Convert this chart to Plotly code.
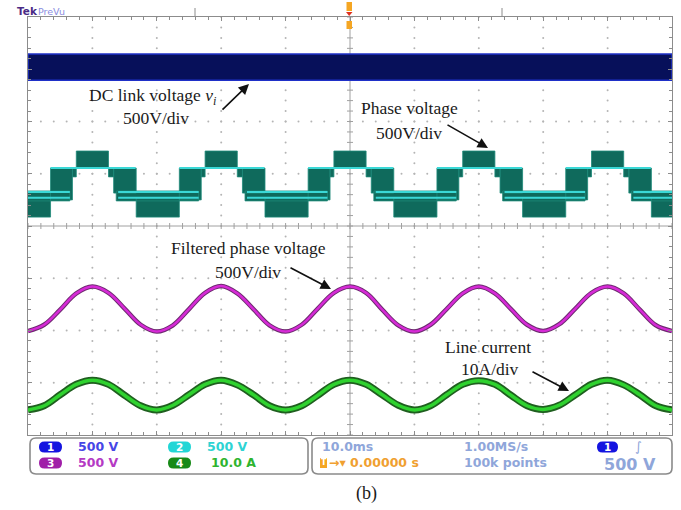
import plotly.graph_objects as go

# ---------------------------------------------------------------------------
# Screen geometry (pixels) of the graticule inside the 681 x 510 page
# ---------------------------------------------------------------------------
W, H = 681, 510
L, R, T, B = 28, 672, 17, 435

X_RANGE = [-50, 50]   # ms (10 ms/div, 10 divisions)
Y_RANGE = [-4, 4]     # divisions (8 divisions)


def px(x):
    return (x - L) / (R - L)


def py(y):
    return (B - y) / (B - T)


# ---------------------------------------------------------------------------
# Waveform data (time in ms, amplitude in screen divisions)
# ---------------------------------------------------------------------------
t_ms = [-50.0, -47.5, -45.0, -42.5, -40.0, -37.5, -35.0, -32.5,
        -30.0, -27.5, -25.0, -22.5, -20.0, -17.5, -15.0, -12.5,
        -10.0, -7.5, -5.0, -2.5, 0.0, 2.5, 5.0, 7.5,
        10.0, 12.5, 15.0, 17.5, 20.0, 22.5, 25.0, 27.5,
        30.0, 32.5, 35.0, 37.5, 40.0, 42.5, 45.0, 47.5, 50.0]

# CH3 - filtered phase voltage (500 V/div)
filtered_v = [-2.01, -1.89, -1.60, -1.29, -1.16, -1.28, -1.58, -1.89,
              -2.02, -1.90, -1.59, -1.28, -1.15, -1.29, -1.59, -1.90,
              -2.02, -1.89, -1.58, -1.28, -1.16, -1.28, -1.60, -1.90,
              -2.02, -1.89, -1.59, -1.29, -1.16, -1.29, -1.59, -1.89,
              -2.01, -1.88, -1.58, -1.28, -1.16, -1.29, -1.60, -1.90, -2.01]

# CH4 - line current (10 A/div)
line_i = [-3.52, -3.44, -3.23, -3.03, -2.95, -3.03, -3.24, -3.44,
          -3.52, -3.43, -3.23, -3.03, -2.95, -3.04, -3.23, -3.44,
          -3.52, -3.44, -3.24, -3.03, -2.95, -3.03, -3.23, -3.43,
          -3.52, -3.44, -3.23, -3.03, -2.96, -3.03, -3.24, -3.44,
          -3.51, -3.43, -3.23, -3.03, -2.95, -3.04, -3.23, -3.44, -3.52]

# CH1 - DC link voltage envelope (500 V/div)
dc_top, dc_bottom = 3.29, 2.79

# CH2 - multilevel phase voltage: PWM envelope segments of one period,
# times relative to each positive plateau centre
pwm_peaks = [-60, -40, -20, 0, 20, 40]
seg_start = [-2.5, 2.5, 3.3, 3.7, 6.8, 13.5, 16.9]
seg_end = [2.5, 3.3, 6.8, 16.5, 13.5, 16.9, 17.5]
seg_lo = [1.11, 0.94, 0.63, 0.48, 0.17, 0.50, 0.94]
seg_hi = [1.435, 1.11, 1.11, 0.67, 0.536, 1.11, 1.11]
# densest switching levels (drawn as bright traces)
lvl_start = [-6.5, 4.0, 4.0]
lvl_end = [6.7, 16.5, 16.5]
lvl_value = [1.11, 0.65, 0.54]

fig = go.Figure()

# ---------------------------------------------------------------------------
# Graticule: dotted grid, centre cross-hair with minor ticks
# ---------------------------------------------------------------------------
grid_x, grid_y = [], []
for gx in [-40, -30, -20, -10, 10, 20, 30, 40]:
    for k in range(41):
        grid_x.append(gx)
        grid_y.append(-4 + 0.2 * k)
for gy in [-3, -2, -1, 1, 2, 3]:
    for k in range(51):
        grid_x.append(-50 + 2 * k)
        grid_y.append(gy)
fig.add_trace(go.Scatter(x=grid_x, y=grid_y, mode="markers",
                         marker=dict(size=2, color="#b4b4b4"),
                         hoverinfo="skip", showlegend=False))

ms_per_px = (X_RANGE[1] - X_RANGE[0]) / (R - L)
div_per_px = (Y_RANGE[1] - Y_RANGE[0]) / (B - T)
cx, cy = [], []
for k in range(41):
    yv = -4 + 0.2 * k
    cx += [-3 * ms_per_px, 3 * ms_per_px, None]
    cy += [yv, yv, None]
for k in range(51):
    xv = -50 + 2 * k
    cx += [xv, xv, None]
    cy += [-3 * div_per_px, 3 * div_per_px, None]
cx += [0, 0, None, -50, 50]
cy += [-4, 4, None, 0, 0]
fig.add_trace(go.Scatter(x=cx, y=cy, mode="lines",
                         line=dict(color="#a0a0a0", width=1),
                         hoverinfo="skip", showlegend=False))

# ---------------------------------------------------------------------------
# CH1: DC link voltage band
# ---------------------------------------------------------------------------
fig.add_trace(go.Scatter(x=[-50, 50, 50, -50, -50],
                         y=[dc_top, dc_top, dc_bottom, dc_bottom, dc_top],
                         mode="lines", fill="toself", fillcolor="#07105a",
                         line=dict(color="#1f30c8", width=1.5),
                         hoverinfo="skip", showlegend=False))

# ---------------------------------------------------------------------------
# CH2: phase voltage PWM envelope
# ---------------------------------------------------------------------------
bx, by = [], []
for p in pwm_peaks:
    for s, e, lo, hi in zip(seg_start, seg_end, seg_lo, seg_hi):
        bx += [p + s, p + e, p + e, p + s, p + s, None]
        by += [hi, hi, lo, lo, hi, None]
fig.add_trace(go.Scatter(x=bx, y=by, mode="lines", fill="toself",
                         fillcolor="#0f6a5c",
                         line=dict(color="#1e8a7a", width=0.8),
                         hoverinfo="skip", showlegend=False))

lx, ly = [], []
for p in pwm_peaks:
    for s, e, v in zip(lvl_start, lvl_end, lvl_value):
        lx += [p + s, p + e, None]
        ly += [v, v, None]
fig.add_trace(go.Scatter(x=lx, y=ly, mode="lines",
                         line=dict(color="#3ad8d6", width=2),
                         hoverinfo="skip", showlegend=False))

# ---------------------------------------------------------------------------
# CH3: filtered phase voltage, CH4: line current
# ---------------------------------------------------------------------------
fig.add_trace(go.Scatter(x=t_ms, y=filtered_v, mode="lines",
                         line=dict(color="#6e2a70", width=4.5, shape="spline"),
                         hoverinfo="skip", showlegend=False))
fig.add_trace(go.Scatter(x=t_ms, y=filtered_v, mode="lines",
                         line=dict(color="#d62ad6", width=2.5, shape="spline"),
                         hoverinfo="skip", showlegend=False))
fig.add_trace(go.Scatter(x=t_ms, y=line_i, mode="lines",
                         line=dict(color="#1f5f1f", width=7, shape="spline"),
                         hoverinfo="skip", showlegend=False))
fig.add_trace(go.Scatter(x=t_ms, y=line_i, mode="lines",
                         line=dict(color="#2fd22f", width=3.5, shape="spline"),
                         hoverinfo="skip", showlegend=False))

# ---------------------------------------------------------------------------
# Axes / frame
# ---------------------------------------------------------------------------
axis_common = dict(showgrid=False, zeroline=False, showline=True,
                   linecolor="#8c8c8c", linewidth=1, mirror="ticks",
                   ticks="inside", ticklen=4, tickcolor="#8c8c8c",
                   showticklabels=False, fixedrange=True)
fig.update_xaxes(range=X_RANGE, dtick=10,
                 minor=dict(ticks="inside", dtick=2, ticklen=3,
                            tickcolor="#8c8c8c"), **axis_common)
fig.update_yaxes(range=Y_RANGE, dtick=1,
                 minor=dict(ticks="inside", dtick=0.2, ticklen=3,
                            tickcolor="#8c8c8c"), **axis_common)

# ---------------------------------------------------------------------------
# Annotations: signal labels with arrows
# ---------------------------------------------------------------------------
SERIF = "Liberation Serif, Times New Roman, serif"
ann = []


def label(text, x, y, size=17.5):
    ann.append(dict(text=text, x=px(x), y=py(y), xref="paper", yref="paper",
                    showarrow=False, font=dict(family=SERIF, size=size,
                                               color="#1a1a1a"),
                    xanchor="center", yanchor="middle"))


def arrow(tail, head):
    ann.append(dict(text="", x=px(head[0]), y=py(head[1]), xref="paper",
                    yref="paper", ax=tail[0] - head[0], ay=tail[1] - head[1],
                    showarrow=True, arrowhead=2, arrowsize=1.3,
                    arrowwidth=1.6, arrowcolor="#111111", standoff=0))


label("DC link voltage <i>v</i><sub><i>i</i></sub>", 153, 96)
label("500V/div", 156, 118)
arrow((221, 111), (249, 84))

label("Phase voltage", 409, 108)
label("500V/div", 409, 133)
arrow((446, 124), (488, 148))

label("Filtered phase voltage", 248, 248)
label("500V/div", 248, 272)
arrow((289, 267), (331, 289))

label("Line current", 488, 347)
label("10A/div", 490, 369)
arrow((531, 371), (569, 391))

label("(b)", 366, 493, size=18)

# ---------------------------------------------------------------------------
# Header: Tek PreVu, position markers, trigger marker
# ---------------------------------------------------------------------------
SANS = "DejaVu Sans, Verdana, sans-serif"
ann.append(dict(text="<b>Tek</b>", x=px(15), y=py(11), xref="paper",
                yref="paper", showarrow=False, xanchor="left",
                yanchor="middle", font=dict(family=SANS, size=10.5,
                                            color="#4a2a86")))
ann.append(dict(text="PreVu", x=px(36), y=py(11), xref="paper",
                yref="paper", showarrow=False, xanchor="left",
                yanchor="middle", font=dict(family=SANS, size=9.5,
                                            color="#8a8ce0")))

shapes = []
for mx, y0 in [(195, 8), (502, 8)]:
    shapes.append(dict(type="line", xref="paper", yref="paper",
                       x0=px(mx), x1=px(mx), y0=py(y0), y1=py(T),
                       line=dict(color="#8c8c8c", width=1)))
shapes.append(dict(type="rect", xref="paper", yref="paper",
                   x0=px(346.5), x1=px(352), y0=py(11), y1=py(2),
                   fillcolor="#f5a623", line=dict(width=0)))
shapes.append(dict(type="path", xref="paper", yref="paper",
                   path=f"M {px(346)},{py(12)} L {px(352.5)},{py(12)} "
                        f"L {px(349.2)},{py(16)} Z",
                   fillcolor="#e0301e", line=dict(width=0)))
shapes.append(dict(type="rect", xref="paper", yref="paper",
                   x0=px(346.5), x1=px(352), y0=py(29), y1=py(21),
                   fillcolor="#f5a623", line=dict(width=0)))


# ---------------------------------------------------------------------------
# Status bar
# ---------------------------------------------------------------------------
def rounded_path(x0, x1, y0, y1, r):
    rx, ry = r / (R - L), r / (B - T)
    X0, X1, Y0, Y1 = px(x0), px(x1), py(y1), py(y0)
    return (f"M {X0 + rx},{Y0} L {X1 - rx},{Y0} Q {X1},{Y0} {X1},{Y0 + ry} "
            f"L {X1},{Y1 - ry} Q {X1},{Y1} {X1 - rx},{Y1} "
            f"L {X0 + rx},{Y1} Q {X0},{Y1} {X0},{Y1 - ry} "
            f"L {X0},{Y0 + ry} Q {X0},{Y0} {X0 + rx},{Y0} Z")


for bx0, bx1 in [(30, 308), (312, 672)]:
    shapes.append(dict(type="path", xref="paper", yref="paper",
                       path=rounded_path(bx0, bx1, 438, 474, 6),
                       line=dict(color="#8a8a8a", width=1.6),
                       fillcolor="rgba(0,0,0,0)"))


def pill(x0, x1, yc, color, num):
    shapes.append(dict(type="path", xref="paper", yref="paper",
                       path=rounded_path(x0, x1, yc - 5.5, yc + 5.5, 5.5),
                       fillcolor=color, line=dict(width=0)))
    ann.append(dict(text=f"<b>{num}</b>", x=px((x0 + x1) / 2), y=py(yc),
                    xref="paper", yref="paper", showarrow=False,
                    xanchor="center", yanchor="middle",
                    font=dict(family=SANS, size=10.5, color="white")))


def status(text, x, yc, color, size=12.5):
    ann.append(dict(text=f"<b>{text}</b>", x=px(x), y=py(yc), xref="paper",
                    yref="paper", showarrow=False, xanchor="left",
                    yanchor="middle",
                    font=dict(family=SANS, size=size, color=color)))


ROW1, ROW2 = 447, 463
pill(39, 62, ROW1, "#1414e0", 1)
status("500 V", 76, ROW1, "#4646e6")
pill(168, 191, ROW1, "#22d6d6", 2)
status("500 V", 205, ROW1, "#2ed3d3")
pill(39, 62, ROW2, "#a01ea8", 3)
status("500 V", 76, ROW2, "#b43ac4")
pill(168, 191, ROW2, "#178a17", 4)
status("10.0 A", 209, ROW2, "#2fb42f")

PALE = "#8fa6da"
status("10.0ms", 320, ROW1, PALE)
status("1.00MS/s", 462, ROW1, PALE)
pill(597, 618, ROW1, "#1414e0", 1)
ann.append(dict(text="∫", x=px(638), y=py(ROW1), xref="paper", yref="paper",
                showarrow=False, xanchor="center", yanchor="middle",
                font=dict(family=SANS, size=13, color=PALE)))
shapes.append(dict(type="rect", xref="paper", yref="paper",
                   x0=px(320), x1=px(327), y0=py(ROW2 + 5), y1=py(ROW2 - 5),
                   fillcolor="#f5a623", line=dict(width=0)))
ann.append(dict(text="<b>T</b>", x=px(323.5), y=py(ROW2), xref="paper",
                yref="paper", showarrow=False, xanchor="center",
                yanchor="middle", font=dict(family=SANS, size=8,
                                            color="white")))
status("→▾ 0.00000 s", 327, ROW2, "#f0a030")
status("100k points", 462, ROW2, PALE)
status("500 V", 602, ROW2 + 1, PALE, size=16)

fig.update_layout(width=W, height=H,
                  margin=dict(l=L, r=W - R, t=T, b=H - B, pad=0),
                  paper_bgcolor="white", plot_bgcolor="white",
                  showlegend=False, annotations=ann, shapes=shapes)

fig.write_html("out.html")
